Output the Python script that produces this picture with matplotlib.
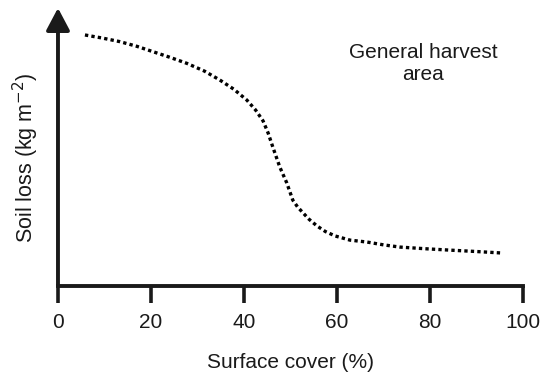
import matplotlib.pyplot as plt
import numpy as np

plt.rcParams["font.family"] = ["Liberation Sans", "DejaVu Sans"]

# Curva de pérdida de suelo
cobertura = [5.8, 9.5, 13.3, 17.0, 20.4, 24.0, 27.7, 31.5, 34.8, 37.8, 40.6, 42.5,
             44.1, 45.2, 46.2, 47.7, 49.2, 50.5, 51.5, 52.7, 54.0, 55.7, 57.5,
             59.6, 62.8, 66.5, 70.0, 73.5, 79.0, 84.3, 90.0, 95.1]
perdida = [90.3, 89.2, 87.9, 86.2, 84.3, 82.3, 80.1, 77.3, 74.1, 70.8, 66.9, 63.3,
           59.4, 55.0, 50.0, 42.8, 37.1, 30.9, 28.5, 26.3, 24.0, 21.6, 19.6,
           18.0, 16.5, 15.8, 14.8, 14.0, 13.4, 12.9, 12.4, 11.9]
ticks_x = [0, 20, 40, 60, 80, 100]

fig = plt.figure(figsize=(5.46, 3.72), dpi=100)
ax = fig.add_axes([0.1062, 0.2312, 0.8516, 0.7473])

ax.plot(cobertura, perdida, color="black", linewidth=2.4,
        linestyle=(0, (1, 0.95)), dash_capstyle="butt", solid_joinstyle="round")

ax.set_xlim(0, 100)
ax.set_ylim(0, 100)
ax.set_xticks(ticks_x)
ax.set_yticks([])
ax.tick_params(axis="x", direction="out", length=12.5, width=2.6,
               labelsize=15, pad=7, colors="#1a1a1a")

for s in ["top", "right", "left"]:
    ax.spines[s].set_visible(False)
ax.spines["bottom"].set_linewidth(2.8)
ax.spines["bottom"].set_color("#1a1a1a")

# eje Y con flecha
ax.annotate("", xy=(0, 1.0), xytext=(0, 0), xycoords="axes fraction",
            arrowprops=dict(arrowstyle="-|>,head_length=0.68,head_width=0.36",
                            mutation_scale=20, lw=2.8, color="#1a1a1a",
                            shrinkA=0, shrinkB=0),
            annotation_clip=False)

ax.set_xlabel("Surface cover (%)", fontsize=15, labelpad=15, color="#1a1a1a")
ax.set_ylabel("Soil loss (kg m$^{-2}$)", fontsize=15.5, color="#1a1a1a")
ax.yaxis.set_label_coords(-0.037, 0.46)

ax.text(78.5, 80.0, "General harvest\narea", fontsize=15, ha="center", va="center",
        linespacing=1.2, color="#1a1a1a")

plt.savefig("out.png", dpi=100)
